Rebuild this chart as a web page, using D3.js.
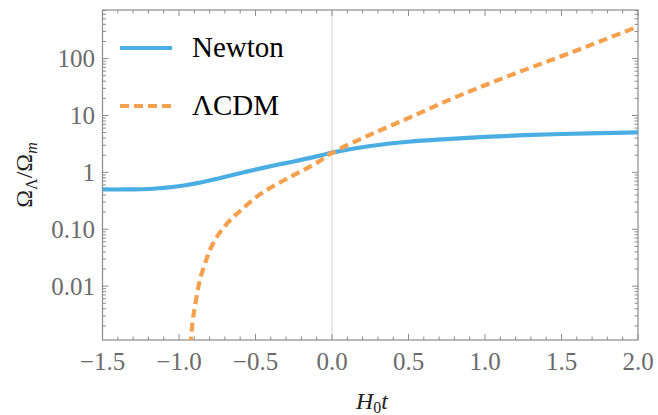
<!DOCTYPE html>
<html><head><meta charset="utf-8">
<script src="https://cdn.jsdelivr.net/npm/d3@7"></script>
</head><body style="margin:0">
<svg id="c" width="658" height="415" style="font-family:'Times New Roman','Liberation Serif',Tinos,'Nimbus Roman',FreeSerif"></svg>
<script>
const newtonX = [-1.5,-1.35,-1.25,-1.15,-1.05,-0.95,-0.85,-0.75,-0.65,-0.55,-0.45,-0.35,-0.25,-0.15,-0.05,0,0.25,0.5,0.75,1.0,1.25,1.5,1.75,2.0];
const newtonY = [0.50,0.50,0.505,0.52,0.55,0.60,0.67,0.77,0.90,1.04,1.20,1.37,1.55,1.78,2.06,2.22,2.9,3.45,3.85,4.2,4.5,4.72,4.88,5.03];
const lcdmX = [-0.925,-0.91,-0.895,-0.863,-0.82,-0.797,-0.75,-0.71,-0.65,-0.6,-0.5,-0.4,-0.3,-0.2,-0.1,0,0.25,0.5,0.75,1.0,1.25,1.5,1.75,2.0];
const lcdmY = [0.0009,0.0025,0.0045,0.013,0.03,0.044,0.075,0.105,0.16,0.21,0.36,0.54,0.76,1.05,1.47,2.2,4.6,9.0,18,34,62,110,200,365];
const xTicks = [-1.5,-1.0,-0.5,0.0,0.5,1.0,1.5,2.0];
const yTicks = [0.01,0.1,1,10,100];
const yTickLabels = ["0.01","0.10","1","10","100"];
const seriesNames = ["Newton","ΛCDM"];

const FONT = "'Times New Roman','Liberation Serif',Tinos,'Nimbus Roman',FreeSerif";
const svg = d3.select("#c");
const L=102.5,R=638,T=10,B=340;
const x = d3.scaleLinear().domain([-1.5,2.0]).range([L,R]);
const y = d3.scaleLog().domain([0.00113,714]).range([B,T]);
const frameCol="#8c8c8c", labCol="#6b6b6b";
const blue="#4aaee2", orange="#f5a04c";

svg.append("defs").append("clipPath").attr("id","clip").append("rect")
  .attr("x",L).attr("y",T).attr("width",R-L).attr("height",B-T);

svg.append("line").attr("x1",x(0)).attr("x2",x(0)).attr("y1",T).attr("y2",B)
  .attr("stroke","#d8d8d8").attr("stroke-width",1.2);

const g = svg.append("g");
const minorX = d3.range(-15,21).map(d=>d/10);
minorX.forEach(v=>{
  const major = Math.abs(v*2-Math.round(v*2))<1e-9;
  const len = major?6:3.5;
  g.append("line").attr("x1",x(v)).attr("x2",x(v)).attr("y1",B).attr("y2",B-len).attr("stroke",frameCol);
  g.append("line").attr("x1",x(v)).attr("x2",x(v)).attr("y1",T).attr("y2",T+len).attr("stroke",frameCol);
});
const minorY=[];
for(let e=-3;e<=2;e++) for(let m=1;m<=9;m++){ const v=m*Math.pow(10,e); if(v>=0.00113&&v<=714) minorY.push([v,m===1]); }
minorY.forEach(([v,major])=>{
  const len = major?6:3.5;
  g.append("line").attr("x1",L).attr("x2",L+len).attr("y1",y(v)).attr("y2",y(v)).attr("stroke",frameCol);
  g.append("line").attr("x1",R).attr("x2",R-len).attr("y1",y(v)).attr("y2",y(v)).attr("stroke",frameCol);
});
svg.append("rect").attr("x",L).attr("y",T).attr("width",R-L).attr("height",B-T)
  .attr("fill","none").attr("stroke",frameCol).attr("stroke-width",1.2);

xTicks.forEach(v=>{
  svg.append("text").attr("x",x(v)).attr("y",370).attr("text-anchor","middle")
    .attr("font-size",25).attr("fill",labCol)
    .text((v<0?"\u2212":"")+Math.abs(v).toFixed(1));
});
yTicks.forEach((v,i)=>{
  svg.append("text").attr("x",95).attr("y",y(v)+8.5).attr("text-anchor","end")
    .attr("font-size",25).attr("fill",labCol)
    .text(yTickLabels[i]);
});

const line = d3.line().x(d=>x(d[0])).y(d=>y(d[1])).curve(d3.curveCatmullRom.alpha(0.5));
const pl = svg.append("g").attr("clip-path","url(#clip)");
pl.append("path").datum(newtonX.map((v,i)=>[v,newtonY[i]])).attr("d",line)
  .attr("fill","none").attr("stroke",blue).attr("stroke-width",4.2);
pl.append("path").datum(lcdmX.map((v,i)=>[v,lcdmY[i]])).attr("d",line)
  .attr("fill","none").attr("stroke",orange).attr("stroke-width",4.2).attr("stroke-dasharray","9,5");

svg.append("line").attr("x1",120).attr("x2",172).attr("y1",48).attr("y2",48).attr("stroke",blue).attr("stroke-width",4.2);
svg.append("line").attr("x1",120).attr("x2",173).attr("y1",106).attr("y2",106).attr("stroke",orange).attr("stroke-width",4.2).attr("stroke-dasharray","9,5");
svg.append("text").attr("x",192).attr("y",57).attr("font-size",29).attr("fill","#000").text(seriesNames[0]);
svg.append("text").attr("x",192).attr("y",115).attr("font-size",29).attr("fill","#000").text(seriesNames[1]);

const xt = svg.append("text").attr("x",372).attr("y",409).attr("text-anchor","middle")
  .attr("font-size",24).attr("fill","#222");
xt.append("tspan").attr("font-style","italic").text("H");
xt.append("tspan").attr("font-size",16).attr("dy",4).text("0");
xt.append("tspan").attr("font-style","italic").attr("dy",-4).text("t");

const yt = svg.append("text").attr("transform","translate(32,175) rotate(-90)").attr("text-anchor","middle")
  .attr("font-size",24).attr("fill","#222");
yt.append("tspan").text("Ω");
yt.append("tspan").attr("font-size",16).attr("dy",5).text("Λ");
yt.append("tspan").attr("dy",-5).text("/Ω");
yt.append("tspan").attr("font-size",16).attr("dy",5).attr("font-style","italic").text("m");

svg.selectAll("text").style("font-family",FONT);
if (document.fonts) document.fonts.ready.then(()=>svg.selectAll("text").style("font-family",FONT));
</script>
</body></html>
